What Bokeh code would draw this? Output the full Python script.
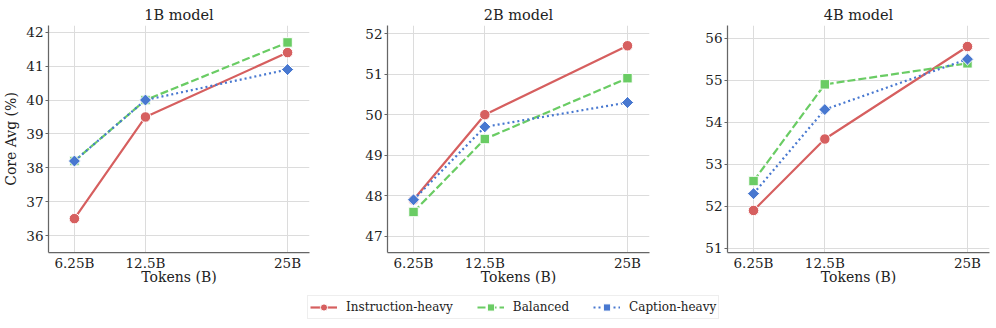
import math
from bokeh.plotting import figure
from bokeh.layouts import row, column
from bokeh.models import FixedTicker, Range1d, Legend, LegendItem, ColumnDataSource
from bokeh.embed import file_html
from bokeh.resources import INLINE

tokens = [6.25, 12.5, 25]
tick_labels = ["6.25B", "12.5B", "25B"]
models = ["1B model", "2B model", "4B model"]
series_names = ["Instruction-heavy", "Balanced", "Caption-heavy"]

instr_1b = [36.5, 39.5, 41.4]
bal_1b = [38.2, 40.0, 41.7]
cap_1b = [38.2, 40.0, 40.9]

instr_2b = [47.9, 50.0, 51.7]
bal_2b = [47.6, 49.4, 50.9]
cap_2b = [47.9, 49.7, 50.3]

instr_4b = [51.9, 53.6, 55.8]
bal_4b = [52.6, 54.9, 55.4]
cap_4b = [52.3, 54.3, 55.5]

yticks_1b = [36, 37, 38, 39, 40, 41, 42]
yticks_2b = [47, 48, 49, 50, 51, 52]
yticks_4b = [51, 52, 53, 54, 55, 56]

panels = [
    (models[0], [instr_1b, bal_1b, cap_1b], yticks_1b),
    (models[1], [instr_2b, bal_2b, cap_2b], yticks_2b),
    (models[2], [instr_4b, bal_4b, cap_4b], yticks_4b),
]

COLORS = ["#d65f5f", "#6acc64", "#4878d0"]
DASHES = ["solid", "8 3", "2 3"]
MARKERS = ["circle", "square", "square"]
SIZES = [10.5, 9.5, 8.5]
ANGLES = [0, 0, math.pi / 4]
FONT = "DejaVu Serif"

# (frame_width, min_border_left, min_border_right)
geoms = [(261, 46, 23), (262, 55, 13), (262, 65, 9)]

figs = []
for i, (title, series, yticks) in enumerate(panels):
    allv = [v for s in series for v in s]
    ymin, ymax = min(allv) - 1.0, max(allv) + 0.5
    fw, bl, br = geoms[i]
    p = figure(frame_width=fw, frame_height=227, min_border_left=bl, min_border_right=br,
               min_border_top=25, min_border_bottom=38,
               x_range=Range1d(3.97, 26.93), y_range=Range1d(ymin, ymax),
               output_backend="svg", toolbar_location=None, title=title)
    p.title.text_font = FONT
    p.title.text_font_size = "14.5px"
    p.title.text_font_style = "normal"
    p.title.align = "center"
    p.title.text_color = "#222222"
    p.title.standoff = 6
    p.outline_line_color = None
    p.background_fill_color = "white"
    p.border_fill_color = "white"

    for ax in (p.xaxis[0], p.yaxis[0]):
        ax.axis_line_color = "#666666"
        ax.axis_line_width = 1.25
        ax.major_label_text_font = FONT
        ax.major_label_text_font_size = "13.5px"
        ax.major_label_text_color = "#222222"
        ax.axis_label_text_font = FONT
        ax.axis_label_text_font_size = "14px"
        ax.axis_label_text_font_style = "normal"
        ax.axis_label_text_color = "#222222"
        ax.minor_tick_line_color = None
    p.xaxis.ticker = FixedTicker(ticks=tokens)
    p.xaxis.major_label_overrides = {t: l for t, l in zip(tokens, tick_labels)}
    p.xaxis.major_tick_line_color = None
    p.xaxis.major_tick_out = 0
    p.xaxis.major_tick_in = 0
    p.xaxis.major_label_standoff = 2
    p.xaxis.axis_label = "Tokens (B)"
    p.xaxis.axis_label_standoff = -5
    p.yaxis.ticker = FixedTicker(ticks=yticks)
    p.yaxis.major_tick_line_color = "#666666"
    p.yaxis.major_tick_out = 3
    p.yaxis.major_tick_in = 0
    p.yaxis.major_label_standoff = 2
    if i == 0:
        p.yaxis.axis_label = "Core Avg (%)"
        p.yaxis.axis_label_standoff = 4

    p.xgrid.grid_line_color = "#dcdcdc"
    p.ygrid.grid_line_color = "#dcdcdc"
    p.xgrid.grid_line_width = 1
    p.ygrid.grid_line_width = 1

    for k, vals in enumerate(series):
        src = ColumnDataSource(dict(x=tokens, y=vals))
        p.line("x", "y", source=src, line_color=COLORS[k], line_width=2.2, line_dash=DASHES[k])
        p.scatter("x", "y", source=src, marker=MARKERS[k], size=SIZES[k], angle=ANGLES[k],
                  fill_color=COLORS[k], line_color="white", line_width=1)
    figs.append(p)

# legend figure (dummy renderers placed outside the visible range)
lf = figure(width=996, height=38, x_range=Range1d(0, 1), y_range=Range1d(0, 1),
            x_axis_type=None, y_axis_type=None, output_backend="svg", toolbar_location=None,
            min_border=0)
lf.outline_line_color = None
lf.xgrid.visible = False
lf.ygrid.visible = False
items = []
for k in range(3):
    src = ColumnDataSource(dict(x=[-10, -11], y=[-10, -11]))
    lr = lf.line("x", "y", source=src, line_color=COLORS[k], line_width=2.2, line_dash=DASHES[k])
    sr = lf.scatter("x", "y", source=src, marker=MARKERS[k], size=SIZES[k], angle=ANGLES[k],
                    fill_color=COLORS[k], line_color="white", line_width=1)
    items.append(LegendItem(label=series_names[k], renderers=[lr, sr]))
legend = Legend(items=items, orientation="horizontal", location=(307, 9),
                glyph_width=27, glyph_height=18, label_standoff=9, spacing=24,
                padding=2, margin=0,
                label_text_font=FONT, label_text_font_size="12px", label_text_color="#222222",
                border_line_color="#dddddd", border_line_width=1,
                background_fill_color="white", background_fill_alpha=1)
lf.add_layout(legend, "center")

layout = column(row(*figs, spacing=0), lf, spacing=0)
open("out.html", "w").write(file_html(layout, INLINE))
